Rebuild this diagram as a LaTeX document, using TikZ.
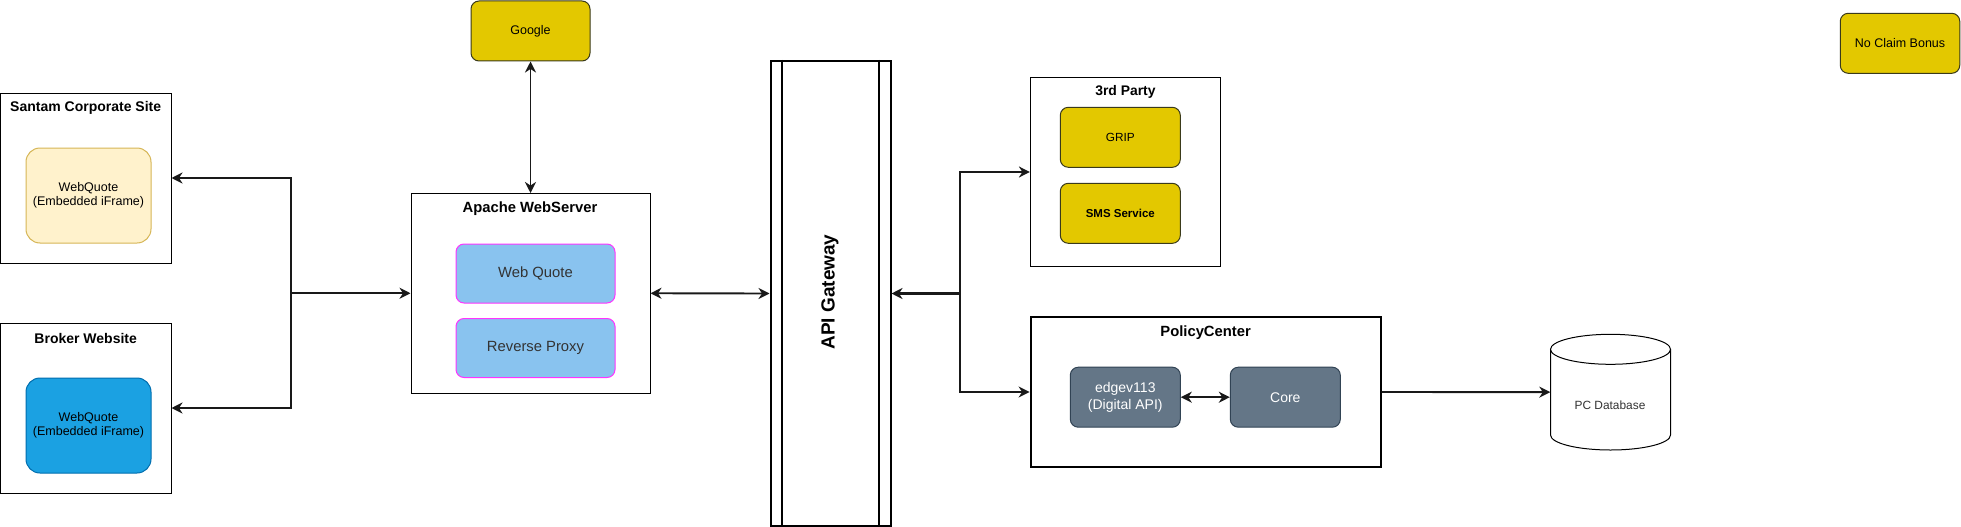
\documentclass[tikz,border=0pt]{standalone}
\usepackage{fontspec}
\setmainfont{Liberation Sans}
\usetikzlibrary{arrows.meta,calc}
\definecolor{ylw}{HTML}{E3C800}
\definecolor{ylwstroke}{HTML}{3A3A1A}
\definecolor{lightylw}{HTML}{FFF2CC}
\definecolor{lightylwstroke}{HTML}{D6B656}
\definecolor{bluefill}{HTML}{1BA1E2}
\definecolor{bluestroke}{HTML}{006EAF}
\definecolor{skyfill}{HTML}{89C3EF}
\definecolor{magentastroke}{HTML}{FF33FF}
\definecolor{slatefill}{HTML}{647687}
\definecolor{slatestroke}{HTML}{314354}
\definecolor{txtgray}{HTML}{333333}
\newcommand\fsz[2]{\fontsize{#1}{#2}\selectfont}
\begin{document}
\begin{tikzpicture}[x=1pt,y=-1pt,
  container/.style={draw=black, line width=1pt, fill=white, rectangle, inner sep=0pt},
  ybox/.style={draw=ylwstroke, fill=ylw, rounded corners=8pt, line width=1pt, inner sep=0pt, align=center, text=black},
  skybox/.style={draw=magentastroke, fill=skyfill, rounded corners=8pt, line width=1pt, inner sep=0pt, minimum width=159pt, minimum height=59pt, text=txtgray, font=\fsz{14.8}{17}},
  slatebox/.style={draw=slatestroke, fill=slatefill, rounded corners=8pt, line width=1pt, inner sep=0pt, minimum width=110pt, minimum height=60pt, text=white, align=center, font=\fsz{14}{16.7}},
  ttl/.style={inner sep=0pt, font=\bfseries},
  tip/.style={-{Stealth[length=11pt,width=11pt,inset=3.5pt]}},
  biTip/.style={{Stealth[length=11pt,width=11pt,inset=3.5pt]}-{Stealth[length=11pt,width=11pt,inset=3.5pt]}},
  conn/.style={line width=1.9pt, draw=black!90},
  thickconn/.style={line width=2.4pt, draw=black!90}
]
\path[use as bounding box] (0,0) rectangle (1961,527);

% Left containers
\node[container, minimum width=170.5pt, minimum height=170pt] (santam) at (85.75,178) {};
\node[ttl, font=\fsz{14}{16}\bfseries] (santamT) at (85.7,108) {Santam Corporate Site};
\node[draw=lightylwstroke, fill=lightylw, rounded corners=14pt, line width=1pt, inner sep=0pt,
      minimum width=125pt, minimum height=95pt, align=center, font=\fsz{12.5}{14}] (sWQ) at (88.5,195.5) {WebQuote\\(Embedded iFrame)};

\node[container, minimum width=170.5pt, minimum height=170pt] (broker) at (85.75,408) {};
\node[ttl, font=\fsz{14}{16}\bfseries] (brokerT) at (85.7,338) {Broker Website};
\node[draw=bluestroke, fill=bluefill, rounded corners=14pt, line width=1pt, inner sep=0pt,
      minimum width=125pt, minimum height=95pt, align=center, font=\fsz{12.5}{14}] (bWQ) at (88.5,425.5) {WebQuote\\(Embedded iFrame)};

% Google
\node[ybox, minimum width=119pt, minimum height=60pt, font=\fsz{12.5}{14}] (google) at (530.5,31) {Google};

% Apache
\node[container, minimum width=239pt, minimum height=199.5pt] (apache) at (530.5,293.25) {};
\node[ttl, font=\fsz{14.8}{17}\bfseries] (apacheT) at (530,209) {Apache WebServer};
\node[skybox] (webq) at (535.5,273.5) {Web Quote};
\node[skybox] (rproxy) at (535.5,348) {Reverse Proxy};

% API Gateway
\node[draw=black, line width=2pt, fill=white, inner sep=0pt, minimum width=120pt, minimum height=465pt] (api) at (830.5,293.5) {};
\draw[line width=2pt] ([xshift=12.5pt]api.north west) -- ([xshift=12.5pt]api.south west);
\draw[line width=2pt] ([xshift=-12.5pt]api.north east) -- ([xshift=-12.5pt]api.south east);
\node[rotate=90, inner sep=0pt, font=\fsz{19}{22}\bfseries] (apiT) at (830,292) {API Gateway};

% 3rd Party
\node[container, minimum width=190pt, minimum height=189.4pt] (third) at (1125.4,172) {};
\node[ttl, font=\fsz{13.9}{16}\bfseries] (thirdT) at (1125.4,92.3) {3rd Party};
\node[ybox, minimum width=120pt, minimum height=60pt, font=\fsz{11.8}{14}] (grip) at (1120.3,137.3) {GRIP};
\node[ybox, minimum width=120pt, minimum height=60pt, font=\fsz{11.5}{14}\bfseries] (sms) at (1120.3,213.3) {SMS Service};

% PolicyCenter
\node[draw=black, line width=2pt, fill=white, inner sep=0pt, minimum width=350pt, minimum height=150.6pt] (pc) at (1205.6,392) {};
\node[ttl, font=\fsz{14.8}{17}\bfseries] (pcT) at (1205.6,332.7) {PolicyCenter};
\node[slatebox] (edge) at (1125.3,397.2) {edgev113\\(Digital API)};
\node[slatebox] (core) at (1285.3,397.2) {Core};

% PC Database (cylinder)
\node[inner sep=0pt, minimum width=120pt, minimum height=115.7pt] (db) at (1610.5,392.15) {};
\draw[line width=1pt, fill=white] (1550.5,349.3) -- (1550.5,435) arc[start angle=180, end angle=360, x radius=60pt, y radius=15pt] -- (1670.5,349.3);
\draw[line width=1pt, fill=white] (1610.5,349.3) ellipse [x radius=60pt, y radius=15pt];
\node[inner sep=0pt, text=txtgray, font=\fsz{11.9}{14}] (dbT) at (1610,405.7) {PC Database};

% No Claim Bonus
\node[ybox, minimum width=119.5pt, minimum height=60pt, font=\fsz{12.5}{14}] (ncb) at (1900,43.3) {No Claim Bonus};

% Connectors
\coordinate (jl) at (290.7,293.25);
\draw[thickconn, tip] (jl) -- (apache.west);
\draw[conn, tip] (jl) |- (santam.east);
\draw[conn, tip] (jl) |- (broker.east);

\draw[conn, biTip] (google.south) -- (apache.north);
\draw[conn, biTip] (apache.east) -- (api.west);

\coordinate (jr) at (960,293.5);
\draw[thickconn, tip] (jr) -- (api.east);
\draw[conn, tip] (jr) |- (third.west);
\draw[conn, tip] (jr) |- (pc.west);

\draw[conn, biTip] (edge.east) -- (core.west);
\draw[conn, tip] (pc.east) -- (db.west);
\end{tikzpicture}
\end{document}
